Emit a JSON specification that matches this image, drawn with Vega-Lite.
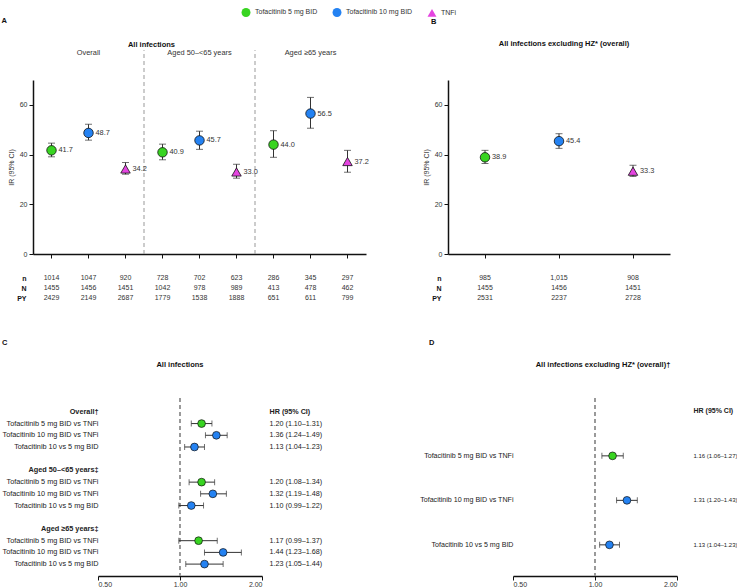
{
  "$schema": "https://vega.github.io/schema/vega-lite/v6.json",
  "background": "white",
  "padding": {"left": 0, "top": 7, "right": 0, "bottom": 0},
  "datasets": {
    "a": [
      {"k": "O5", "sub": "Overall", "arm": "Tofacitinib 5 mg BID", "ir": 41.7, "lo": 39.1, "hi": 44.6, "n": "1014", "N": "1455", "PY": "2429"},
      {"k": "O10", "sub": "Overall", "arm": "Tofacitinib 10 mg BID", "ir": 48.7, "lo": 45.8, "hi": 52.2, "n": "1047", "N": "1456", "PY": "2149"},
      {"k": "OT", "sub": "Overall", "arm": "TNFi", "ir": 34.2, "lo": 32.1, "hi": 36.8, "n": "920", "N": "1451", "PY": "2687"},
      {"k": "M5", "sub": "Aged 50–<65 years", "arm": "Tofacitinib 5 mg BID", "ir": 40.9, "lo": 37.9, "hi": 44.2, "n": "728", "N": "1042", "PY": "1779"},
      {"k": "M10", "sub": "Aged 50–<65 years", "arm": "Tofacitinib 10 mg BID", "ir": 45.7, "lo": 42.1, "hi": 49.4, "n": "702", "N": "978", "PY": "1538"},
      {"k": "MT", "sub": "Aged 50–<65 years", "arm": "TNFi", "ir": 33.0, "lo": 30.5, "hi": 36.1, "n": "623", "N": "989", "PY": "1888"},
      {"k": "E5", "sub": "Aged ≥65 years", "arm": "Tofacitinib 5 mg BID", "ir": 44.0, "lo": 38.9, "hi": 49.6, "n": "286", "N": "413", "PY": "651"},
      {"k": "E10", "sub": "Aged ≥65 years", "arm": "Tofacitinib 10 mg BID", "ir": 56.5, "lo": 50.6, "hi": 63.0, "n": "345", "N": "478", "PY": "611"},
      {"k": "ET", "sub": "Aged ≥65 years", "arm": "TNFi", "ir": 37.2, "lo": 32.9, "hi": 41.7, "n": "297", "N": "462", "PY": "799"}
    ],
    "b": [
      {"k": "5", "arm": "Tofacitinib 5 mg BID", "ir": 38.9, "lo": 36.4, "hi": 41.7, "n": "985", "N": "1455", "PY": "2531"},
      {"k": "10", "arm": "Tofacitinib 10 mg BID", "ir": 45.4, "lo": 42.5, "hi": 48.4, "n": "1,015", "N": "1456", "PY": "2237"},
      {"k": "T", "arm": "TNFi", "ir": 33.3, "lo": 31.2, "hi": 35.7, "n": "908", "N": "1451", "PY": "2728"}
    ],
    "c": [
      {"rid": "Overall†|H|HR (95% CI)"},
      {"rid": "Tofacitinib 5 mg BID vs TNFi|O|1.20 (1.10–1.31)", "arm": "Tofacitinib 5 mg BID", "hr": 1.20, "lo": 1.10, "hi": 1.31},
      {"rid": "Tofacitinib 10 mg BID vs TNFi|O|1.36 (1.24–1.49)", "arm": "Tofacitinib 10 mg BID", "hr": 1.36, "lo": 1.24, "hi": 1.49},
      {"rid": "Tofacitinib 10 vs 5 mg BID|O|1.13 (1.04–1.23)", "arm": "Tofacitinib 10 mg BID", "hr": 1.13, "lo": 1.04, "hi": 1.23},
      {"rid": "|G1|"},
      {"rid": "Aged 50–<65 years‡|H|"},
      {"rid": "Tofacitinib 5 mg BID vs TNFi|A|1.20 (1.08–1.34)", "arm": "Tofacitinib 5 mg BID", "hr": 1.20, "lo": 1.08, "hi": 1.34},
      {"rid": "Tofacitinib 10 mg BID vs TNFi|A|1.32 (1.19–1.48)", "arm": "Tofacitinib 10 mg BID", "hr": 1.32, "lo": 1.19, "hi": 1.48},
      {"rid": "Tofacitinib 10 vs 5 mg BID|A|1.10 (0.99–1.22)", "arm": "Tofacitinib 10 mg BID", "hr": 1.10, "lo": 0.99, "hi": 1.22},
      {"rid": "|G2|"},
      {"rid": "Aged ≥65 years‡|H|"},
      {"rid": "Tofacitinib 5 mg BID vs TNFi|B|1.17 (0.99–1.37)", "arm": "Tofacitinib 5 mg BID", "hr": 1.17, "lo": 0.99, "hi": 1.37},
      {"rid": "Tofacitinib 10 mg BID vs TNFi|B|1.44 (1.23–1.68)", "arm": "Tofacitinib 10 mg BID", "hr": 1.44, "lo": 1.23, "hi": 1.68},
      {"rid": "Tofacitinib 10 vs 5 mg BID|B|1.23 (1.05–1.44)", "arm": "Tofacitinib 10 mg BID", "hr": 1.23, "lo": 1.05, "hi": 1.44}
    ],
    "d": [
      {"rid": "|H|HR (95% CI)"},
      {"rid": "|G1|"},
      {"rid": "|G2|"},
      {"rid": "Tofacitinib 5 mg BID vs TNFi|D|1.16 (1.06–1.27)", "arm": "Tofacitinib 5 mg BID", "hr": 1.16, "lo": 1.06, "hi": 1.27},
      {"rid": "|G3|"},
      {"rid": "|G4|"},
      {"rid": "Tofacitinib 10 mg BID vs TNFi|D|1.31 (1.20–1.43)", "arm": "Tofacitinib 10 mg BID", "hr": 1.31, "lo": 1.20, "hi": 1.43},
      {"rid": "|G5|"},
      {"rid": "|G6|"},
      {"rid": "Tofacitinib 10 vs 5 mg BID|D|1.13 (1.04–1.23)", "arm": "Tofacitinib 10 mg BID", "hr": 1.13, "lo": 1.04, "hi": 1.23}
    ]
  },
  "spacing": 31,
  "vconcat": [
    {
      "spacing": 0,
      "hconcat": [
        {"width": 1, "height": 1, "data": {"values": []}, "mark": {"type": "rule"}, "encoding": {"x": {"value": 0}, "y": {"value": 0}}},
        {
          "title": {"text": "A", "anchor": "start", "offset": 16, "dx": -5.5},
          "spacing": 10,
          "vconcat": [
            {
              "width": 333,
              "height": 174,
              "title": {"text": "All infections", "dx": -48, "offset": 1},
              "data": {"name": "a"},
              "encoding": {
                "x": {"field": "k", "type": "nominal", "scale": {"type": "band", "domain": ["O5", "O10", "OT", "M5", "M10", "MT", "E5", "E10", "ET"], "paddingInner": 0, "paddingOuter": 0}, "axis": {"labels": false, "title": null, "tickSize": 4, "domainWidth": 1.5, "tickWidth": 1}}
              },
              "layer": [
                {
                  "transform": [{"filter": "datum.arm == 'Tofacitinib 5 mg BID' && datum.sub != 'Overall'"}],
                  "mark": {"type": "rule", "strokeDash": [4, 3], "color": "#999", "strokeWidth": 1},
                  "encoding": {
                    "x": {"field": "k", "type": "nominal", "bandPosition": 0},
                    "y": {"datum": 0, "type": "quantitative", "scale": {"domain": [0, 70]}},
                    "y2": {"datum": 82}
                  }
                },
                {
                  "transform": [{"filter": "datum.arm == 'Tofacitinib 10 mg BID'"}],
                  "mark": {"type": "text", "fontSize": 7.4, "color": "#333"},
                  "encoding": {
                    "y": {"datum": 80.8, "type": "quantitative", "scale": {"domain": [0, 70]}},
                    "text": {"field": "sub"}
                  }
                },
                {
                  "mark": {"type": "rule", "color": "#333", "strokeWidth": 1},
                  "encoding": {
                    "y": {"field": "lo", "type": "quantitative", "scale": {"domain": [0, 70]}},
                    "y2": {"field": "hi"}
                  }
                },
                {
                  "mark": {"type": "tick", "orient": "horizontal", "size": 7, "thickness": 1, "color": "#333"},
                  "encoding": {"y": {"field": "lo", "type": "quantitative", "scale": {"domain": [0, 70]}}}
                },
                {
                  "mark": {"type": "tick", "orient": "horizontal", "size": 7, "thickness": 1, "color": "#333"},
                  "encoding": {"y": {"field": "hi", "type": "quantitative", "scale": {"domain": [0, 70]}}}
                },
                {
                  "mark": {"type": "point", "filled": true, "size": 90, "stroke": "#111", "strokeWidth": 0.8, "opacity": 1},
                  "encoding": {
                    "y": {"field": "ir", "type": "quantitative", "scale": {"domain": [0, 70]}, "axis": {"values": [0, 10, 20, 30, 40, 50, 60, 70], "title": "IR (95% CI)", "tickSize": 4, "domainWidth": 1.5, "tickWidth": 1, "labelPadding": 2, "titlePadding": 1, "minExtent": 18, "maxExtent": 18}},
                    "fill": {"field": "arm", "type": "nominal", "title": null, "scale": {"domain": ["Tofacitinib 5 mg BID", "Tofacitinib 10 mg BID", "TNFi"], "range": ["#38d421", "#2482f2", "#e445e0"]}, "legend": {"orient": "none", "legendX": 241, "legendY": -73, "direction": "horizontal"}},
                    "shape": {"field": "arm", "type": "nominal", "title": null, "scale": {"domain": ["Tofacitinib 5 mg BID", "Tofacitinib 10 mg BID", "TNFi"], "range": ["circle", "circle", "triangle-up"]}, "legend": {"orient": "none", "legendX": 241, "legendY": -73, "direction": "horizontal"}}
                  }
                },
                {
                  "mark": {"type": "text", "align": "left", "dx": 7, "fontSize": 7.4, "color": "#333"},
                  "encoding": {
                    "y": {"field": "ir", "type": "quantitative", "scale": {"domain": [0, 70]}},
                    "text": {"field": "ir", "type": "quantitative", "format": ".1f"}
                  }
                }
              ]
            },
            {
              "width": 333,
              "height": 30,
              "data": {"name": "a"},
              "transform": [{"fold": ["n", "N", "PY"], "as": ["stat", "val"]}],
              "mark": {"type": "text", "fontSize": 7, "color": "#333"},
              "encoding": {
                "x": {"field": "k", "type": "nominal", "scale": {"type": "band", "domain": ["O5", "O10", "OT", "M5", "M10", "MT", "E5", "E10", "ET"], "paddingInner": 0, "paddingOuter": 0}, "axis": null},
                "y": {"field": "stat", "type": "nominal", "sort": ["n", "N", "PY"], "axis": {"title": "IR (95% CI)", "titleColor": "rgba(0,0,0,0)", "titlePadding": 1, "domain": false, "ticks": false, "labelPadding": 7, "labelFontWeight": "bold", "labelColor": "#111", "minExtent": 18, "maxExtent": 18}},
                "text": {"field": "val", "type": "nominal"}
              }
            }
          ]
        },
        {"width": 53, "height": 1, "data": {"values": []}, "mark": {"type": "rule"}, "encoding": {"x": {"value": 0}, "y": {"value": 0}}},
        {
          "title": {"text": "B", "anchor": "start", "offset": 14, "dx": 9},
          "spacing": 10,
          "vconcat": [
            {
              "width": 222,
              "height": 174,
              "title": {"text": "All infections excluding HZ* (overall)", "dx": 5, "offset": 33},
              "data": {"name": "b"},
              "encoding": {
                "x": {"field": "k", "type": "nominal", "scale": {"type": "band", "domain": ["5", "10", "T"], "paddingInner": 0, "paddingOuter": 0}, "axis": {"labels": false, "title": null, "tickSize": 4, "domainWidth": 1.5, "tickWidth": 1}}
              },
              "layer": [
                {
                  "mark": {"type": "rule", "color": "#333", "strokeWidth": 1},
                  "encoding": {
                    "y": {"field": "lo", "type": "quantitative", "scale": {"domain": [0, 70]}},
                    "y2": {"field": "hi"}
                  }
                },
                {
                  "mark": {"type": "tick", "orient": "horizontal", "size": 7, "thickness": 1, "color": "#333"},
                  "encoding": {"y": {"field": "lo", "type": "quantitative", "scale": {"domain": [0, 70]}}}
                },
                {
                  "mark": {"type": "tick", "orient": "horizontal", "size": 7, "thickness": 1, "color": "#333"},
                  "encoding": {"y": {"field": "hi", "type": "quantitative", "scale": {"domain": [0, 70]}}}
                },
                {
                  "mark": {"type": "point", "filled": true, "size": 90, "stroke": "#111", "strokeWidth": 0.8, "opacity": 1},
                  "encoding": {
                    "y": {"field": "ir", "type": "quantitative", "scale": {"domain": [0, 70]}, "axis": {"values": [0, 10, 20, 30, 40, 50, 60, 70], "title": "IR (95% CI)", "tickSize": 4, "domainWidth": 1.5, "tickWidth": 1, "labelPadding": 2, "titlePadding": 1, "minExtent": 18, "maxExtent": 18}},
                    "fill": {"field": "arm", "type": "nominal", "title": null, "scale": {"domain": ["Tofacitinib 5 mg BID", "Tofacitinib 10 mg BID", "TNFi"], "range": ["#38d421", "#2482f2", "#e445e0"]}, "legend": {"orient": "none", "legendX": 241, "legendY": -73, "direction": "horizontal"}},
                    "shape": {"field": "arm", "type": "nominal", "title": null, "scale": {"domain": ["Tofacitinib 5 mg BID", "Tofacitinib 10 mg BID", "TNFi"], "range": ["circle", "circle", "triangle-up"]}, "legend": {"orient": "none", "legendX": 241, "legendY": -73, "direction": "horizontal"}}
                  }
                },
                {
                  "mark": {"type": "text", "align": "left", "dx": 7, "fontSize": 7.4, "color": "#333"},
                  "encoding": {
                    "y": {"field": "ir", "type": "quantitative", "scale": {"domain": [0, 70]}},
                    "text": {"field": "ir", "type": "quantitative", "format": ".1f"}
                  }
                }
              ]
            },
            {
              "width": 222,
              "height": 30,
              "data": {"name": "b"},
              "transform": [{"fold": ["n", "N", "PY"], "as": ["stat", "val"]}],
              "mark": {"type": "text", "fontSize": 7, "color": "#333"},
              "encoding": {
                "x": {"field": "k", "type": "nominal", "scale": {"type": "band", "domain": ["5", "10", "T"], "paddingInner": 0, "paddingOuter": 0}, "axis": null},
                "y": {"field": "stat", "type": "nominal", "sort": ["n", "N", "PY"], "axis": {"title": "IR (95% CI)", "titleColor": "rgba(0,0,0,0)", "titlePadding": 1, "domain": false, "ticks": false, "labelPadding": 7, "labelFontWeight": "bold", "labelColor": "#111", "minExtent": 18, "maxExtent": 18}},
                "text": {"field": "val", "type": "nominal"}
              }
            }
          ]
        }
      ]
    },
    {
      "spacing": 0,
      "hconcat": [
        {"width": 1, "height": 1, "data": {"values": []}, "mark": {"type": "rule"}, "encoding": {"x": {"value": 0}, "y": {"value": 0}}},
        {
          "title": {"text": "C", "anchor": "start", "offset": 15},
          "vconcat": [
            {
              "width": 164,
              "height": 178,
              "title": {"text": "All infections", "offset": 29},
              "data": {"name": "c"},
              "resolve": {"axis": {"y": "independent"}},
              "layer": [
                {
                  "mark": {"type": "rule", "strokeDash": [4, 3], "color": "#999", "strokeWidth": 1},
                  "encoding": {"x": {"datum": 1, "type": "quantitative", "scale": {"type": "log", "domain": [0.5, 2], "nice": false}}}
                },
                {
                  "mark": {"type": "text", "text": ""},
                  "encoding": {
                    "x": {"datum": 1, "type": "quantitative"},
                    "y": {"field": "rid", "type": "nominal", "scale": {"type": "band", "domain": ["Overall†|H|HR (95% CI)", "Tofacitinib 5 mg BID vs TNFi|O|1.20 (1.10–1.31)", "Tofacitinib 10 mg BID vs TNFi|O|1.36 (1.24–1.49)", "Tofacitinib 10 vs 5 mg BID|O|1.13 (1.04–1.23)", "|G1|", "Aged 50–<65 years‡|H|", "Tofacitinib 5 mg BID vs TNFi|A|1.20 (1.08–1.34)", "Tofacitinib 10 mg BID vs TNFi|A|1.32 (1.19–1.48)", "Tofacitinib 10 vs 5 mg BID|A|1.10 (0.99–1.22)", "|G2|", "Aged ≥65 years‡|H|", "Tofacitinib 5 mg BID vs TNFi|B|1.17 (0.99–1.37)", "Tofacitinib 10 mg BID vs TNFi|B|1.44 (1.23–1.68)", "Tofacitinib 10 vs 5 mg BID|B|1.23 (1.05–1.44)"], "paddingInner": 0, "paddingOuter": 0.6, "align": 0.57},
                      "axis": {"orient": "left", "title": null, "labelExpr": "split(datum.value, '|')[0]", "labelFontWeight": {"condition": {"test": "split(datum.value, '|')[1] == 'H'", "value": "bold"}, "value": "normal"}, "domain": false, "ticks": false, "labelPadding": 0, "labelFontSize": 7.3, "labelColor": "#222", "labelLimit": 0}}
                  }
                },
                {
                  "mark": {"type": "text", "text": ""},
                  "encoding": {
                    "x": {"datum": 1, "type": "quantitative"},
                    "y": {"field": "rid", "type": "nominal", "axis": {"orient": "right", "title": null, "labelExpr": "split(datum.value, '|')[2]", "labelFontWeight": {"condition": {"test": "split(datum.value, '|')[1] == 'H'", "value": "bold"}, "value": "normal"}, "domain": false, "ticks": false, "labelPadding": 7, "labelFontSize": 7.2, "labelColor": "#222", "labelLimit": 0}}
                  }
                },
                {
                  "transform": [{"filter": "isValid(datum.hr)"}],
                  "mark": {"type": "rule", "color": "#333", "strokeWidth": 1},
                  "encoding": {
                    "x": {"field": "lo", "type": "quantitative"},
                    "x2": {"field": "hi"},
                    "y": {"field": "rid", "type": "nominal", "axis": null}
                  }
                },
                {
                  "transform": [{"filter": "isValid(datum.hr)"}],
                  "mark": {"type": "tick", "size": 6, "thickness": 1, "color": "#333"},
                  "encoding": {
                    "x": {"field": "lo", "type": "quantitative"},
                    "y": {"field": "rid", "type": "nominal", "axis": null}
                  }
                },
                {
                  "transform": [{"filter": "isValid(datum.hr)"}],
                  "mark": {"type": "tick", "size": 6, "thickness": 1, "color": "#333"},
                  "encoding": {
                    "x": {"field": "hi", "type": "quantitative"},
                    "y": {"field": "rid", "type": "nominal", "axis": null}
                  }
                },
                {
                  "transform": [{"filter": "isValid(datum.hr)"}],
                  "mark": {"type": "point", "filled": true, "size": 60, "stroke": "#111", "strokeWidth": 0.7, "opacity": 1, "shape": "circle"},
                  "encoding": {
                    "x": {"field": "hr", "type": "quantitative", "scale": {"type": "log", "domain": [0.5, 2], "nice": false}, "axis": {"values": [0.5, 1, 2], "format": ".2f", "title": null, "tickSize": 4, "domainWidth": 1.5, "tickWidth": 1, "labelPadding": 0}},
                    "y": {"field": "rid", "type": "nominal", "axis": null},
                    "fill": {"field": "arm", "type": "nominal", "title": null, "scale": {"domain": ["Tofacitinib 5 mg BID", "Tofacitinib 10 mg BID", "TNFi"], "range": ["#38d421", "#2482f2", "#e445e0"]}, "legend": {"orient": "none", "legendX": 241, "legendY": -73, "direction": "horizontal"}}
                  }
                }
              ]
            }
          ]
        },
        {"width": 97, "height": 1, "data": {"values": []}, "mark": {"type": "rule"}, "encoding": {"x": {"value": 0}, "y": {"value": 0}}},
        {
          "title": {"text": "D", "anchor": "start", "offset": 15, "dx": 9.5},
          "vconcat": [
            {
              "width": 164,
              "height": 178,
              "title": {"text": "All infections excluding HZ* (overall)†", "offset": 29, "dx": 8},
              "data": {"name": "d"},
              "resolve": {"axis": {"y": "independent"}},
              "layer": [
                {
                  "mark": {"type": "rule", "strokeDash": [4, 3], "color": "#999", "strokeWidth": 1},
                  "encoding": {"x": {"datum": 1, "type": "quantitative", "scale": {"type": "log", "domain": [0.5, 2], "nice": false}}}
                },
                {
                  "mark": {"type": "text", "text": ""},
                  "encoding": {
                    "x": {"datum": 1, "type": "quantitative"},
                    "y": {"field": "rid", "type": "nominal", "scale": {"type": "band", "domain": ["|H|HR (95% CI)", "|G1|", "|G2|", "Tofacitinib 5 mg BID vs TNFi|D|1.16 (1.06–1.27)", "|G3|", "|G4|", "Tofacitinib 10 mg BID vs TNFi|D|1.31 (1.20–1.43)", "|G5|", "|G6|", "Tofacitinib 10 vs 5 mg BID|D|1.13 (1.04–1.23)"], "paddingInner": 0, "paddingOuter": 1.2, "align": 0.2},
                      "axis": {"orient": "left", "title": null, "labelExpr": "split(datum.value, '|')[0]", "labelFontWeight": {"condition": {"test": "split(datum.value, '|')[1] == 'H'", "value": "bold"}, "value": "normal"}, "domain": false, "ticks": false, "labelPadding": 0, "labelFontSize": 7.1, "labelColor": "#222", "labelLimit": 0}}
                  }
                },
                {
                  "mark": {"type": "text", "text": ""},
                  "encoding": {
                    "x": {"datum": 1, "type": "quantitative"},
                    "y": {"field": "rid", "type": "nominal", "axis": {"orient": "right", "title": null, "labelExpr": "split(datum.value, '|')[2]", "labelFontWeight": {"condition": {"test": "split(datum.value, '|')[1] == 'H'", "value": "bold"}, "value": "normal"}, "labelFontSize": {"condition": {"test": "split(datum.value, '|')[1] == 'H'", "value": 7}, "value": 6}, "domain": false, "ticks": false, "labelPadding": 16, "labelColor": "#222", "labelLimit": 0}}
                  }
                },
                {
                  "transform": [{"filter": "isValid(datum.hr)"}],
                  "mark": {"type": "rule", "color": "#333", "strokeWidth": 1},
                  "encoding": {
                    "x": {"field": "lo", "type": "quantitative"},
                    "x2": {"field": "hi"},
                    "y": {"field": "rid", "type": "nominal", "axis": null}
                  }
                },
                {
                  "transform": [{"filter": "isValid(datum.hr)"}],
                  "mark": {"type": "tick", "size": 6, "thickness": 1, "color": "#333"},
                  "encoding": {
                    "x": {"field": "lo", "type": "quantitative"},
                    "y": {"field": "rid", "type": "nominal", "axis": null}
                  }
                },
                {
                  "transform": [{"filter": "isValid(datum.hr)"}],
                  "mark": {"type": "tick", "size": 6, "thickness": 1, "color": "#333"},
                  "encoding": {
                    "x": {"field": "hi", "type": "quantitative"},
                    "y": {"field": "rid", "type": "nominal", "axis": null}
                  }
                },
                {
                  "transform": [{"filter": "isValid(datum.hr)"}],
                  "mark": {"type": "point", "filled": true, "size": 60, "stroke": "#111", "strokeWidth": 0.7, "opacity": 1, "shape": "circle"},
                  "encoding": {
                    "x": {"field": "hr", "type": "quantitative", "scale": {"type": "log", "domain": [0.5, 2], "nice": false}, "axis": {"values": [0.5, 1, 2], "format": ".2f", "title": null, "tickSize": 4, "domainWidth": 1.5, "tickWidth": 1, "labelPadding": 0}},
                    "y": {"field": "rid", "type": "nominal", "axis": null},
                    "fill": {"field": "arm", "type": "nominal", "title": null, "scale": {"domain": ["Tofacitinib 5 mg BID", "Tofacitinib 10 mg BID", "TNFi"], "range": ["#38d421", "#2482f2", "#e445e0"]}, "legend": {"orient": "none", "legendX": 241, "legendY": -73, "direction": "horizontal"}}
                  }
                }
              ]
            }
          ]
        }
      ]
    }
  ],
  "config": {
    "font": "Liberation Sans",
    "view": {"stroke": null},
    "title": {"fontSize": 7.5, "fontWeight": "bold", "color": "#111", "font": "Liberation Sans"},
    "axis": {"labelFont": "Liberation Sans", "titleFont": "Liberation Sans", "labelFontSize": 7, "labelColor": "#333", "titleFontSize": 7, "titleFontWeight": "normal", "titleColor": "#333", "domainColor": "#111", "tickColor": "#111", "grid": false},
    "legend": {"labelFont": "Liberation Sans", "labelFontSize": 7, "labelColor": "#333", "symbolSize": 80, "symbolStrokeColor": "#111", "symbolStrokeWidth": 0.8, "columnPadding": 12, "labelOffset": 4, "padding": 0}
  }
}
